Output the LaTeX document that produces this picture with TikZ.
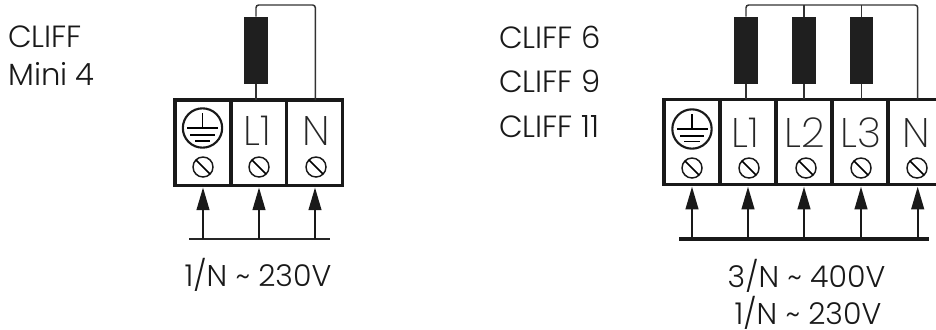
\documentclass[tikz,border=0pt]{standalone}
\usepackage{fontspec}
\usepackage{tikz}
\usetikzlibrary{arrows.meta}
\setmainfont{Poppins Light}
\newfontfamily\thinfont{Poppins ExtraLight}

\tikzset{
  cell/.style={draw=black!90, line width=2.5pt, minimum width=42pt, minimum height=64pt, inner sep=0pt, outer sep=0pt},
  heater/.style={fill=black!88, minimum width=17.5pt, minimum height=50.5pt, inner sep=0pt, outer sep=0pt},
  screw/.style={circle, draw=black!90, line width=1.1pt, minimum size=15pt, inner sep=0pt, outer sep=0pt},
  earthring/.style={circle, draw=black!90, line width=1.6pt, minimum size=29.5pt, inner sep=0pt, outer sep=0pt},
  pin/.style={font=\thinfont\fontsize{31}{31}\selectfont, text=black!85, inner sep=0pt, anchor=base},
  caption/.style={font=\fontsize{23}{23}\selectfont, text=black!90, inner sep=0pt, anchor=base west},
  rating/.style={font=\fontsize{22.5}{23}\selectfont, text=black!90, inner sep=0pt, anchor=base},
  wire/.style={draw=black!80, line width=1.1pt, rounded corners=2pt},
  feed/.style={draw=black!90, line width=1.6pt, shorten >=1.5pt, -{Triangle[length=17pt, width=9.5pt]}},
}

\begin{document}
\begin{tikzpicture}[x=0.75pt, y=-0.75pt]
  \clip (0,0) rectangle (936,329);

  % 左の端子台
  \node[cell] (a0) at (202.9,142.8) {};
  \node[cell] (a1) at (258.7,142.8) {};
  \node[cell] (a2) at (314.6,142.8) {};
  \node[pin] (a1lbl) at (257,145) {L1};
  \node[pin] (a2lbl) at (316.5,145) {N};

  % 接地記号
  \node[earthring] (a0ring) at (202.5,128) {};
  \draw[line width=1.2pt] (a0ring.center) -- (202.5,113);
  \draw[line width=1.6pt] (187,128) -- (218,128);
  \draw[line width=1.1pt] (190,135) -- (215,135);
  \draw[line width=1.1pt] (195,141) -- (210,141);

  % ねじ
  \foreach \n/\x in {a0/203, a1/259, a2/316} {
    \node[screw] (\n screw) at (\x,167) {};
    \draw[line width=1.1pt] (\n screw.north west) -- (\n screw.south east);
  }

  % ヒーター
  \node[heater] (ra) at (256,50.3) {};
  \coordinate (atop) at (256,5);
  \coordinate (aret) at (315.3,5);
  \draw[wire] (ra |- a1.north) -- (ra);
  \draw[wire] (ra) -- (atop) -- (aret) -- (aret |- a2.north);

  % 給電
  \coordinate (abusl) at (189,239);
  \coordinate (abusr) at (330,239);
  \draw[black!85, line width=1.2pt] (abusl) -- (abusr);
  \foreach \n/\x in {a0/203, a1/259, a2/315} {
    \coordinate (\n feed) at (\x,239);
    \draw[feed] (\n feed) -- (\n feed |- a0.south);
  }

  % 文字
  \node[caption] (atext1) at (8,47) {CLIFF};
  \node[caption] (atext2) at (8,85) {Mini 4};
  \node[rating] (alabel) at (258,286) {1/N \textasciitilde{} 230V};

  % 右の端子台
  \foreach \n/\x in {b0/692, b1/748, b2/804, b3/860, b4/916} {
    \node[cell] (\n) at (\x,142) {};
  }
  \node[pin] (b1lbl) at (745,147) {L1};
  \node[pin] (b2lbl) at (805,147) {L2};
  \node[pin] (b3lbl) at (861,147) {L3};
  \node[pin] (b4lbl) at (916,147) {N};

  % 接地記号
  \node[earthring] (b0ring) at (692,129) {};
  \draw[line width=1.2pt] (b0ring.center) -- (692,114);
  \draw[line width=1.6pt] (677,129) -- (708,129);
  \draw[line width=1.1pt] (680,136) -- (704,136);
  \draw[line width=1.1pt] (684,141.5) -- (700,141.5);

  % ねじ
  \foreach \n/\x in {b0/692, b1/749, b2/806, b3/861, b4/917} {
    \node[screw] (\n screw) at (\x,168) {};
    \draw[line width=1.1pt] (\n screw.north west) -- (\n screw.south east);
  }

  % ヒーター
  \node[heater] (rb1) at (746,50.3) {};
  \node[heater] (rb2) at (804,50.3) {};
  \node[heater] (rb3) at (861.5,50.3) {};
  \coordinate (bret) at (917.7,5);
  \draw[wire] (rb1 |- b1.north) -- (rb1);
  \draw[wire] (rb2 |- b2.north) -- (rb2);
  \draw[wire] (rb3 |- b3.north) -- (rb3);
  \draw[wire] (rb1) -- (rb1 |- bret) -- (bret) -- (bret |- b4.north);
  \draw[wire] (rb2) -- (rb2 |- bret);
  \draw[wire] (rb3) -- (rb3 |- bret);

  % 給電
  \coordinate (bbusl) at (679,239);
  \coordinate (bbusr) at (929,239);
  \draw[black!90, line width=3pt] (bbusl) -- (bbusr);
  \foreach \n/\x in {b0/692, b1/748, b2/804, b3/861, b4/917.7} {
    \coordinate (\n feed) at (\x,239);
    \draw[feed] (\n feed) -- (\n feed |- b0.south);
  }

  % 文字
  \node[caption] (btext1) at (499,48) {CLIFF 6};
  \node[caption] (btext2) at (499,92) {CLIFF 9};
  \node[caption] (btext3) at (499,137) {CLIFF 11};
  \node[rating] (blabel1) at (806.5,287) {3/N \textasciitilde{} 400V};
  \node[rating] (blabel2) at (808,324) {1/N \textasciitilde{} 230V};
\end{tikzpicture}
\end{document}
